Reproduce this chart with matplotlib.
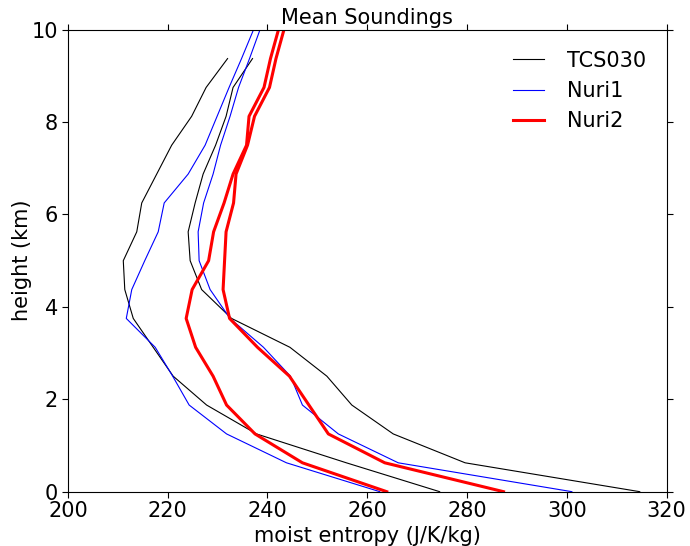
import numpy as np
import matplotlib
matplotlib.use('Agg')
import matplotlib.pyplot as plt

# heights (km) of the sounding levels
heights = [0.0, 0.625, 1.25, 1.875, 2.5, 3.125, 3.75, 4.375, 5.0, 5.625,
           6.25, 6.875, 7.5, 8.125, 8.75, 9.375, 10.0]

# TCS030: moist entropy and saturated moist entropy (up to 9.375 km)
tcs_s = [274.5, 255.8, 237.8, 227.8, 221.1, 217.1, 213.1, 211.4, 211.1,
         213.8, 214.8, 217.8, 220.8, 224.8, 227.7, 232.0]
tcs_ss = [314.6, 279.6, 265.2, 256.9, 251.9, 244.5, 232.8, 226.8, 224.5,
          224.1, 225.5, 227.1, 229.6, 231.7, 233.1, 237.0]

# Nuri1
nuri1_s = [262.5, 243.8, 231.8, 224.3, 221.0, 217.5, 211.7, 212.8, 215.4,
           218.1, 219.3, 224.1, 227.5, 229.9, 232.3, 234.8, 237.2]
nuri1_ss = [301.0, 266.2, 254.2, 247.0, 244.6, 239.2, 232.5, 228.5, 226.3,
            226.1, 227.2, 229.1, 230.6, 232.5, 234.2, 236.4, 238.5]

# Nuri2
nuri2_s = [263.9, 247.0, 237.5, 231.8, 229.1, 225.6, 223.7, 224.9, 228.2,
           229.2, 231.3, 233.1, 235.8, 236.3, 239.3, 240.6, 242.2]
nuri2_ss = [287.3, 263.5, 252.2, 248.3, 244.4, 238.0, 232.4, 231.1, 231.4,
            231.7, 233.2, 233.7, 236.0, 237.4, 240.4, 241.7, 243.3]

plt.rcParams['font.size'] = 15

fig = plt.figure(figsize=(6.9, 5.46), dpi=100)
ax = fig.add_axes([0.0984, 0.0995, 0.8678, 0.8461])

n = len(tcs_s)
ax.plot(tcs_s, heights[:n], color='black', lw=0.8, label='TCS030')
ax.plot(tcs_ss, heights[:n], color='black', lw=0.8)
ax.plot(nuri1_s, heights, color='blue', lw=0.8, label='Nuri1')
ax.plot(nuri1_ss, heights, color='blue', lw=0.8)
ax.plot(nuri2_s, heights, color='red', lw=2.2, label='Nuri2')
ax.plot(nuri2_ss, heights, color='red', lw=2.2)

ax.set_xlim(200, 320)
ax.set_ylim(0, 10)
ax.set_xticks(np.arange(200, 321, 20))
ax.set_yticks(np.arange(0, 11, 2))
ax.tick_params(direction='out', length=4, top=True, right=True, pad=3)

ax.set_title('Mean Soundings', fontsize=15, pad=4)
ax.set_xlabel('moist entropy (J/K/kg)', labelpad=3)
ax.set_ylabel('height (km)', labelpad=0)

ax.legend(loc='upper right', frameon=False, fontsize=15, handlelength=1.5,
          handletextpad=1.1, labelspacing=0.5, borderaxespad=0.6)

fig.savefig('out.png', dpi=100)
